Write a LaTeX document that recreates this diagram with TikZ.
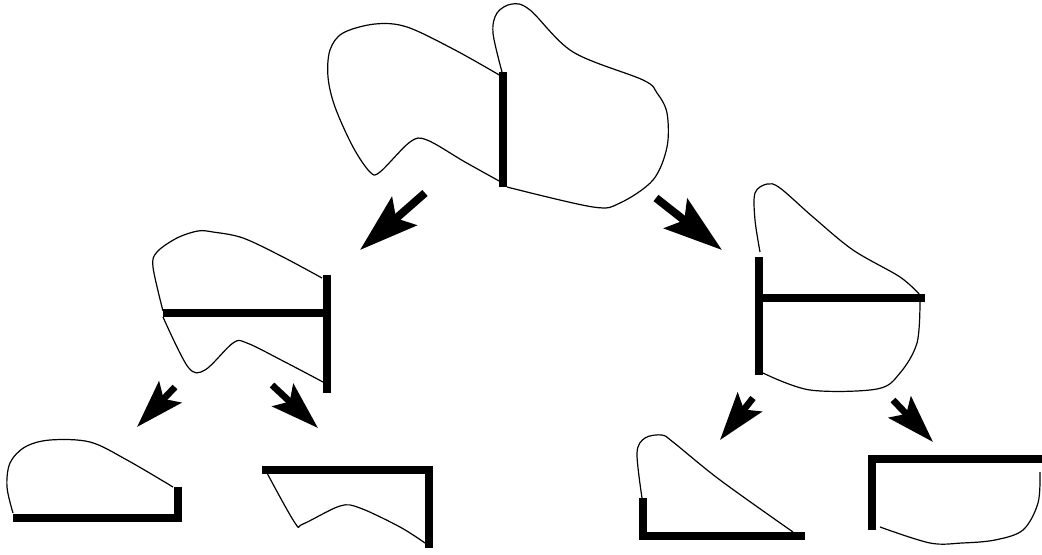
\documentclass[tikz,border=0pt]{standalone}
\usepackage{tikz}
\usetikzlibrary{arrows.meta}

\begin{document}
\begin{tikzpicture}[
    x=0.75pt, y=-0.75pt,
    outline/.style={draw, line width=0.9pt, line join=round},
    bar/.style={draw, line width=5.5pt, line join=miter},
    bigarr/.style={line width=6pt, -{Stealth[length=44pt, width=28pt, inset=8pt]}},
    smallarr/.style={line width=5pt, -{Stealth[length=36pt, width=23pt, inset=7pt]}}
]
\useasboundingbox (0,0) rectangle (1042,554);

% top region, split by one vertical cut
\draw[bar] (503,72) -- (503,187);
\draw[outline] plot[smooth, tension=0.55] coordinates {(501,76) (455,50) (407,27) (375,24) (343,33) (330,50) (328,77) (335,107) (353,147) (370,172) (380,172) (410,142) (427,140) (465,162) (501,182)};
\draw[outline] plot[smooth, tension=0.55] coordinates {(502,72) (493,33) (497,13) (512,4) (530,10) (573,52) (643,80) (657,93) (667,113) (667,147) (653,180) (620,203) (593,207) (507,187)};

% second level, left
\draw[bar] (327,275) -- (327,393);
\draw[bar] (163,313) -- (327,313);
\draw[outline] plot[smooth, tension=0.55] coordinates {(322,278) (283,257) (243,238) (213,232) (198,231) (177,238) (157,252) (153,267) (163,311)};
\draw[outline] plot[smooth, tension=0.55] coordinates {(163,317) (188,367) (205,370) (233,343) (247,343) (285,362) (323,382)};

% second level, right
\draw[bar] (759,257) -- (759,375);
\draw[bar] (759,298) -- (925,298);
\draw[outline] plot[smooth, tension=0.55] coordinates {(760,252) (755,220) (755,193) (767,184) (780,188) (813,217) (853,250) (900,277) (920,295)};
\draw[outline] plot[smooth, tension=0.55] coordinates {(920,302) (917,343) (900,373) (877,389) (810,390) (763,373)};

% leaves
\draw[bar] (178,487) |- (13,518);
\draw[outline] plot[smooth, tension=0.55] coordinates {(173,487) (127,460) (90,442) (50,440) (25,447) (10,463) (7,487) (13,513)};

\draw[bar] (262,470) -| (429,548);
\draw[outline] plot[smooth, tension=0.55] coordinates {(267,473) (295,523) (303,524) (340,506) (360,508) (400,527) (425,543)};

\draw[bar] (643,498) |- (805,536);
\draw[outline] plot[smooth, tension=0.55] coordinates {(642,498) (637,453) (645,438) (662,435) (673,442) (720,480) (793,532)};

\draw[bar] (872,530) |- (1042,459);
\draw[outline] plot[smooth, tension=0.55] coordinates {(1040,472) (1038,503) (1023,530) (995,540) (962,543) (930,543) (880,527)};

% arrows
\coordinate (topL) at (425,193);  \coordinate (midL) at (360,250);
\coordinate (topR) at (656,198);  \coordinate (midR) at (722,250);
\coordinate (midLa) at (175,387); \coordinate (leafA) at (137,427);
\coordinate (midLb) at (272,385); \coordinate (leafB) at (318,428);
\coordinate (midRa) at (753,398); \coordinate (leafC) at (720,440);
\coordinate (midRb) at (893,400); \coordinate (leafD) at (933,442);

\draw[bigarr] (topL) -- (midL);
\draw[bigarr] (topR) -- (midR);
\draw[smallarr] (midLa) -- (leafA);
\draw[smallarr] (midLb) -- (leafB);
\draw[smallarr] (midRa) -- (leafC);
\draw[smallarr] (midRb) -- (leafD);
\end{tikzpicture}
\end{document}
